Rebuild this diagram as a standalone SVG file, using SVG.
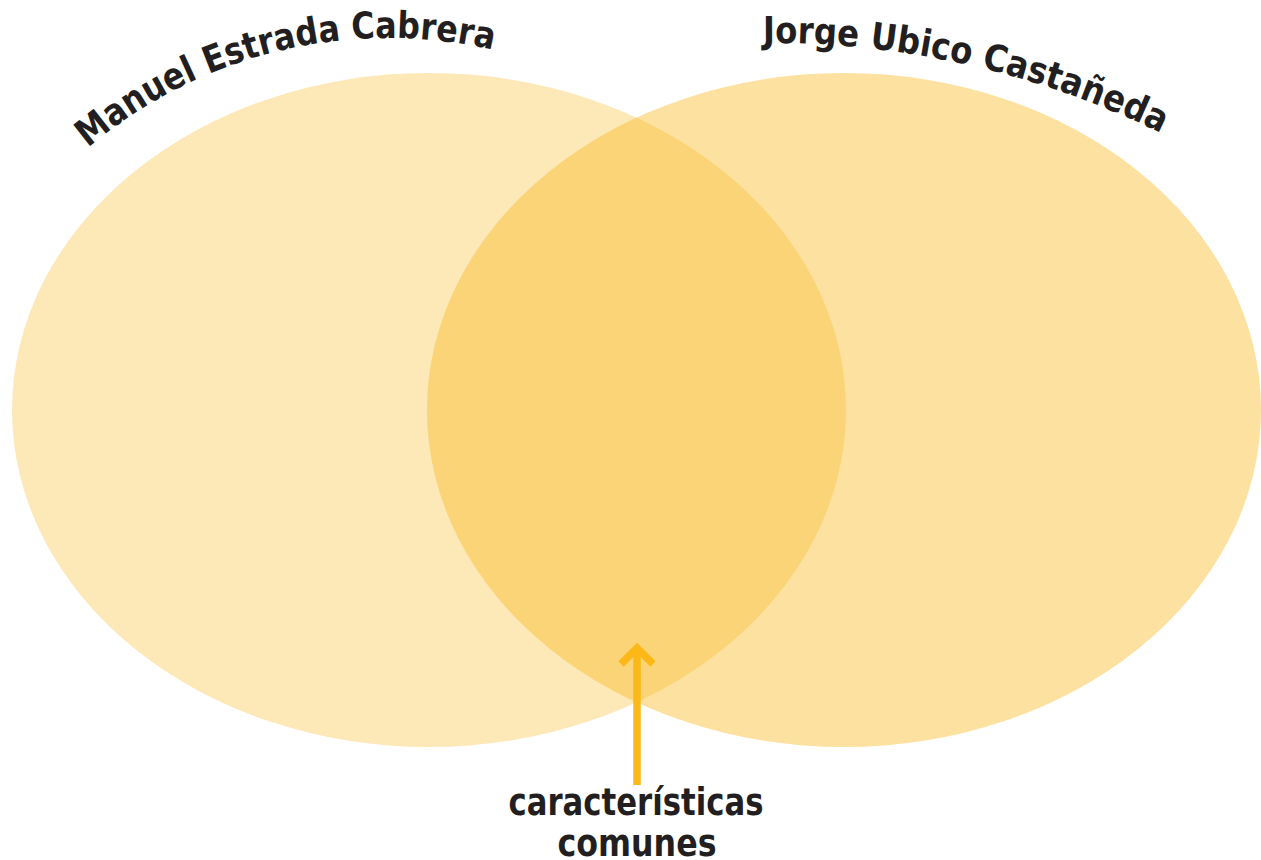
<svg xmlns="http://www.w3.org/2000/svg" xmlns:xlink="http://www.w3.org/1999/xlink" width="1261" height="860" viewBox="0 0 1261 860">
<style>
.lbl{font-family:"DejaVu Sans","Liberation Sans",sans-serif;font-weight:bold;fill:#231F20;}
.arrow{stroke:#FBB817;stroke-width:7.5;fill:none;}
</style>
<defs>
<clipPath id="clipL"><ellipse cx="429" cy="410" rx="417" ry="337"/></clipPath>
<path id="arcL" d="M 88,148 A 465 465 0 0 1 530,60"/>
<path id="arcR" d="M 763,43 A 882 882 0 0 1 1190,148"/>
</defs>
<rect width="1261" height="860" fill="#FFFFFF"/>
<g id="set-left">
<ellipse cx="429" cy="410" rx="417" ry="337" fill="#FDE8B8"/>
</g>
<g id="set-right">
<ellipse cx="844" cy="410" rx="417" ry="337" fill="#FCE1A0"/>
</g>
<g id="intersection">
<ellipse cx="844" cy="410" rx="417" ry="337" fill="#FAD477" clip-path="url(#clipL)"/>
</g>
<g id="label-left">
<text class="lbl" font-size="37"><textPath xlink:href="#arcL" textLength="432" lengthAdjust="spacingAndGlyphs">Manuel Estrada Cabrera</textPath></text>
</g>
<g id="label-right">
<text class="lbl" font-size="37"><textPath xlink:href="#arcR" textLength="412" lengthAdjust="spacingAndGlyphs">Jorge Ubico Castañeda</textPath></text>
</g>
<g id="connectors">
<line class="arrow" x1="637" y1="785" x2="637" y2="648"/>
<polyline class="arrow" points="621,664 637,648 653,664"/>
</g>
<g id="label-common">
<text class="lbl" font-size="37" x="636" y="815" text-anchor="middle" textLength="255" lengthAdjust="spacingAndGlyphs">características</text>
<text class="lbl" font-size="37" x="637" y="856" text-anchor="middle" textLength="159" lengthAdjust="spacingAndGlyphs">comunes</text>
</g>
</svg>
